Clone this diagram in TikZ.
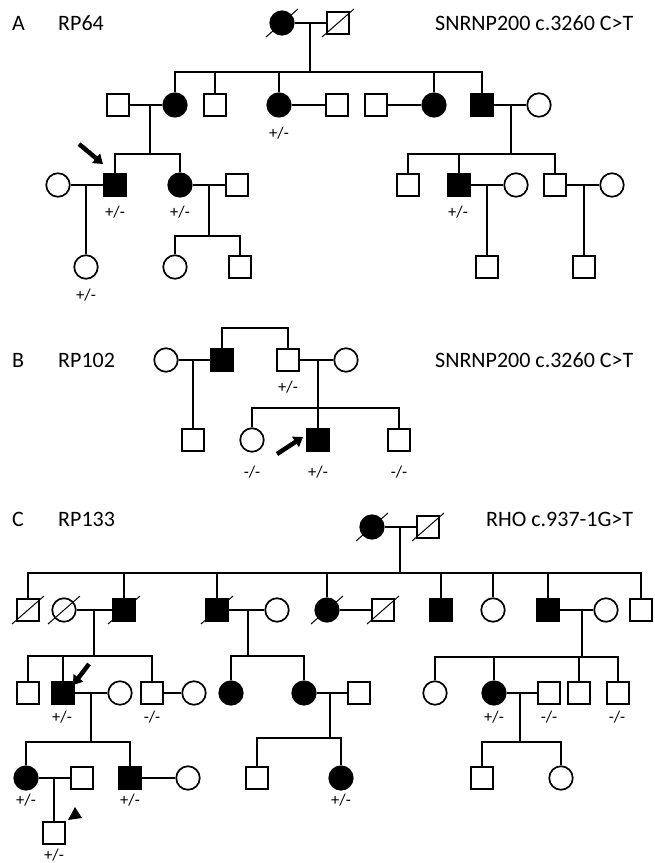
\documentclass[tikz,border=0pt]{standalone}
\usepackage{fontspec}
\setmainfont{Carlito}
\usetikzlibrary{arrows.meta}
\tikzset{
  sq/.style={draw, rectangle, minimum size=22.5pt, inner sep=0pt, line width=1.7pt},
  ci/.style={draw, circle, minimum size=23.5pt, inner sep=0pt, line width=1.7pt},
  aff/.style={fill=black},
  ln/.style={line width=1.4pt},
  decline/.style={line width=1pt},
  title/.style={font=\fontsize{22}{26}\selectfont, anchor=west, inner sep=0pt},
  lab/.style={font=\fontsize{16.5}{19}\selectfont, inner sep=0pt},
  parrow/.style={line width=4.5pt, -{Triangle[width=12pt,length=9pt]}},
}
\newcommand\deceasedmark[1]{\draw[decline] ([shift={(-16,14)}]#1.center) -- ([shift={(16,-14)}]#1.center);}
\begin{document}
\begin{tikzpicture}[x=1pt,y=-1pt]
\useasboundingbox (0,0) rectangle (654,863);
% ================= Panel A =================
\node[title] (tA) at (12,23) {A};
\node[title] (tA2) at (58,23) {RP64};
\node[title] (tA3) at (435,23) {SNRNP200 c.3260 C>T};
\node[ci,aff] (a1) at (282,23) {};
\node[sq] (a2) at (338,23) {};
\deceasedmark{a1}\deceasedmark{a2}
\draw[ln] (a1) -- (a2);
\coordinate (am1) at (310,23); \coordinate (as1) at (310,72);
\draw[ln] (am1) -- (as1);
% row 2
\node[sq] (a3) at (118,105) {};
\node[ci,aff] (a4) at (175,105) {};
\node[sq] (a5) at (215,105) {};
\node[ci,aff] (a6) at (279,105) {};
\node[sq] (a7) at (337,105) {};
\node[sq] (a8) at (376,105) {};
\node[ci,aff] (a9) at (434,105) {};
\node[sq,aff] (a10) at (482,105) {};
\node[ci] (a11) at (539,105) {};
\node[lab] (la6) at (279,133) {+/-};
\foreach \c in {a4,a5,a6,a9,a10} \draw[ln] (as1) -| (\c);
\draw[ln] (a3) -- (a4);
\draw[ln] (a6) -- (a7);
\draw[ln] (a8) -- (a9);
\draw[ln] (a10) -- (a11);
\coordinate (am2) at (150,105); \coordinate (as2) at (150,154);
\coordinate (am3) at (511,105); \coordinate (as3) at (511,154);
\draw[ln] (am2) -- (as2); \draw[ln] (am3) -- (as3);
% row 3
\node[ci] (a12) at (58,185) {};
\node[sq,aff] (a13) at (115,185) {};
\node[ci,aff] (a14) at (180,185) {};
\node[sq] (a15) at (237,185) {};
\node[sq] (a16) at (408,185) {};
\node[sq,aff] (a17) at (459,185) {};
\node[ci] (a18) at (516,185) {};
\node[sq] (a19) at (555,185) {};
\node[ci] (a20) at (612,185) {};
\node[lab] (la13) at (115,212) {+/-};
\node[lab] (la14) at (180,212) {+/-};
\node[lab] (la17) at (458,212) {+/-};
\foreach \c in {a13,a14} \draw[ln] (as2) -| (\c);
\foreach \c in {a16,a17,a19} \draw[ln] (as3) -| (\c);
\draw[ln] (a12) -- (a13);
\draw[ln] (a14) -- (a15);
\draw[ln] (a17) -- (a18);
\draw[ln] (a19) -- (a20);
\coordinate (apa1) at (79,144); \coordinate (apa2) at (103,164);
\draw[parrow] (apa1) -- (apa2);
% row 4
\node[ci] (a21) at (86,267) {};
\node[ci] (a22) at (175,267) {};
\node[sq] (a23) at (240,267) {};
\node[sq] (a25) at (487,267) {};
\node[sq] (a26) at (584,267) {};
\node[lab] (la21) at (86,295) {+/-};
\coordinate (am4) at (86,185); \draw[ln] (am4) -- (a21);
\coordinate (am5) at (209,185); \coordinate (as5) at (209,236);
\draw[ln] (am5) -- (as5);
\foreach \c in {a22,a23} \draw[ln] (as5) -| (\c);
\coordinate (am6) at (487,185); \draw[ln] (am6) -- (a25);
\coordinate (am7) at (584,185); \draw[ln] (am7) -- (a26);
% ================= Panel B =================
\node[title] (tB) at (12,360) {B};
\node[title] (tB2) at (58,360) {RP102};
\node[title] (tB3) at (435,360) {SNRNP200 c.3260 C>T};
\node[ci] (b1) at (166,360) {};
\node[sq,aff] (b2) at (222,360) {};
\node[sq] (b3) at (288,360) {};
\node[ci] (b4) at (346,360) {};
\node[lab] (lb3) at (288,387) {+/-};
\draw[ln] (b1) -- (b2);
\draw[ln] (b3) -- (b4);
\coordinate (bt) at (255,328);
\draw[ln] (b2.north) |- (bt) -| (b3.north);
\node[sq] (b5) at (193,440) {};
\coordinate (bm1) at (193,360); \draw[ln] (bm1) -- (b5);
\coordinate (bm2) at (318,360); \coordinate (bs2) at (318,408);
\draw[ln] (bm2) -- (bs2);
\node[ci] (b6) at (252,440) {};
\node[sq,aff] (b7) at (318,440) {};
\node[sq] (b8) at (399,440) {};
\foreach \c in {b6,b7,b8} \draw[ln] (bs2) -| (\c);
\node[lab] (lb6) at (252,472) {-/-};
\node[lab] (lb7) at (318,472) {+/-};
\node[lab] (lb8) at (399,472) {-/-};
\coordinate (bpa1) at (277,454); \coordinate (bpa2) at (303,437);
\draw[parrow] (bpa1) -- (bpa2);
% ================= Panel C =================
\node[title] (tC) at (12,519) {C};
\node[title] (tC2) at (58,519) {RP133};
\node[title] (tC3) at (486,519) {RHO c.937-1G>T};
\node[ci,aff] (c1) at (372,527) {};
\node[sq] (c2) at (428,527) {};
\deceasedmark{c1}\deceasedmark{c2}
\draw[ln] (c1) -- (c2);
\coordinate (cm1) at (400,527); \coordinate (cs1) at (400,573);
\draw[ln] (cm1) -- (cs1);
% row 2
\node[sq] (c3) at (28,610) {};
\node[ci] (c4) at (64,610) {};
\node[sq,aff] (c5) at (124,610) {};
\node[sq,aff] (c6) at (217,610) {};
\node[ci] (c7) at (277,610) {};
\node[ci,aff] (c8) at (327,610) {};
\node[sq] (c9) at (383,610) {};
\node[sq,aff] (c10) at (441,610) {};
\node[ci] (c11) at (493,610) {};
\node[sq,aff] (c12) at (548,610) {};
\node[ci] (c13) at (606,610) {};
\node[sq] (c14) at (641,610) {};
\foreach \c in {c3,c4,c5,c6,c8,c9} \deceasedmark{\c}
\foreach \c in {c3,c5,c6,c8,c10,c11,c12,c14} \draw[ln] (cs1) -| (\c);
\draw[ln] (c4) -- (c5);
\draw[ln] (c6) -- (c7);
\draw[ln] (c8) -- (c9);
\draw[ln] (c12) -- (c13);
\coordinate (cm2) at (94,610); \coordinate (cs2) at (94,656);
\coordinate (cm3) at (248,610); \coordinate (cs3) at (248,656);
\coordinate (cm4) at (582,610); \coordinate (cs4) at (582,657);
\draw[ln] (cm2) -- (cs2); \draw[ln] (cm3) -- (cs3); \draw[ln] (cm4) -- (cs4);
% row 3
\node[sq] (c15) at (28,693) {};
\node[sq,aff] (c16) at (63,693) {};
\node[ci] (c17) at (120,693) {};
\node[sq] (c18) at (152,693) {};
\node[ci] (c19) at (194,693) {};
\node[ci,aff] (c20) at (231,693) {};
\node[ci,aff] (c21) at (304,693) {};
\node[sq] (c22) at (359,693) {};
\node[ci] (c23) at (435,693) {};
\node[ci,aff] (c24) at (494,693) {};
\node[sq] (c25) at (549,693) {};
\node[sq] (c26) at (579,693) {};
\node[sq] (c27) at (618,693) {};
\node[lab] (lc16) at (62,717) {+/-};
\node[lab] (lc18) at (152,717) {-/-};
\node[lab] (lc24) at (494,717) {+/-};
\node[lab] (lc25) at (549,717) {-/-};
\node[lab] (lc27) at (617,717) {-/-};
\foreach \c in {c15,c16,c18} \draw[ln] (cs2) -| (\c);
\foreach \c in {c20,c21} \draw[ln] (cs3) -| (\c);
\foreach \c in {c23,c24,c26,c27} \draw[ln] (cs4) -| (\c);
\draw[ln] (c16) -- (c17);
\draw[ln] (c18) -- (c19);
\draw[ln] (c21) -- (c22);
\draw[ln] (c24) -- (c25);
\coordinate (cpa1) at (89,664); \coordinate (cpa2) at (73,685);
\draw[parrow] (cpa1) -- (cpa2);
\coordinate (cm5) at (91,693); \coordinate (cs5) at (91,742);
\coordinate (cm6) at (330,693); \coordinate (cs6) at (330,738);
\coordinate (cm7) at (520,693); \coordinate (cs7) at (520,742);
\draw[ln] (cm5) -- (cs5); \draw[ln] (cm6) -- (cs6); \draw[ln] (cm7) -- (cs7);
% row 4
\node[ci,aff] (c28) at (26,778) {};
\node[sq] (c29) at (82,778) {};
\node[sq,aff] (c30) at (130,778) {};
\node[ci] (c31) at (188,778) {};
\node[sq] (c32) at (257,778) {};
\node[ci,aff] (c33) at (341,778) {};
\node[sq] (c34) at (482,778) {};
\node[ci] (c35) at (561,778) {};
\node[lab] (lc28) at (26,800) {+/-};
\node[lab] (lc30) at (130,800) {+/-};
\node[lab] (lc33) at (341,800) {+/-};
\foreach \c in {c28,c30} \draw[ln] (cs5) -| (\c);
\foreach \c in {c32,c33} \draw[ln] (cs6) -| (\c);
\foreach \c in {c34,c35} \draw[ln] (cs7) -| (\c);
\draw[ln] (c28) -- (c29);
\draw[ln] (c30) -- (c31);
% row 5
\node[sq] (c36) at (54,833) {};
\node[lab] (lc36) at (54,855) {+/-};
\coordinate (cm8) at (54,778); \draw[ln] (cm8) -- (c36);
\fill (68,820) -- (75,807) -- (82,818) -- cycle;
\end{tikzpicture}
\end{document}
